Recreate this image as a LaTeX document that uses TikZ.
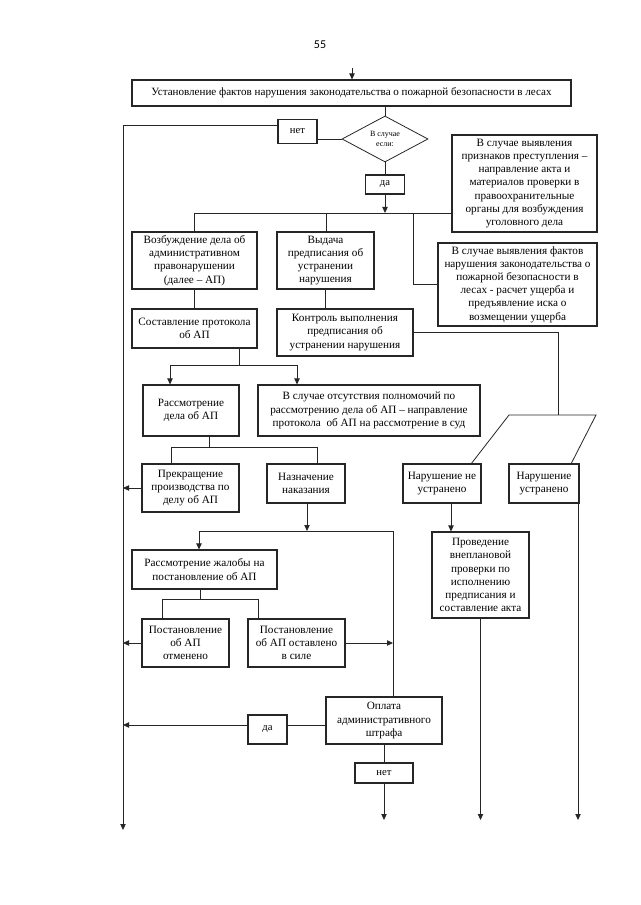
\documentclass[tikz,border=0pt]{standalone}
\usepackage{fontspec}
\setmainfont{Liberation Serif}
\newfontfamily\numfont{Carlito}
\usetikzlibrary{arrows.meta,shapes.geometric}
\tikzset{
  box/.style={draw=black!85, line width=0.8pt, align=center, inner sep=0pt, font=\fontsize{8.4}{9.9}\selectfont},
  wh/.style 2 args={minimum width=#1*0.75pt, minimum height=#2*0.75pt},
  conn/.style={draw=black!85, line width=0.6pt},
  arr/.style={conn, -{Triangle[length=4.5pt,width=4pt]}}
}
\begin{document}
\begin{tikzpicture}[x=0.75pt,y=-0.75pt]
\useasboundingbox (0,0) rectangle (640,905);
\fill[white] (0,0) rectangle (640,905);

\node[font=\numfont\fontsize{9}{10}\selectfont] (pg) at (320,45) {55};

\node[box, wh={439}{26}, font=\fontsize{8.3}{9.9}\selectfont] (main) at (351.5,93) {Установление фактов нарушения законодательства о пожарной безопасности в лесах};
\node[box, wh={39}{24}, font=\fontsize{8}{9}\selectfont] (net1) at (297.5,131.5) {нет};
\node[draw=black!85, diamond, line width=0.6pt, minimum width=86*0.75pt, minimum height=46*0.75pt, inner sep=0pt, aspect=1.8, align=center, font=\fontsize{6}{7}\selectfont] (dia) at (385,139) {В случае\\если:};
\node[box, wh={39}{19}, font=\fontsize{8}{9}\selectfont] (da1) at (385,184.5) {да};
\node[box, wh={145}{97}] (crime) at (524.5,183.5) {В случае выявления\\признаков преступления –\\направление акта и\\материалов проверки в\\правоохранительные\\органы для возбуждения\\уголовного дела};
\node[box, wh={125}{57}] (vozb) at (194.5,260.5) {Возбуждение дела об\\административном\\правонарушении\\(далее – АП)};
\node[box, wh={97}{57}] (vyd) at (325.5,260.5) {Выдача\\предписания об\\устранении\\нарушения};
\node[box, wh={159}{83}] (usch) at (517.5,284.5) {В случае выявления фактов\\нарушения законодательства о\\пожарной безопасности в\\лесах - расчет ущерба и\\предъявление иска о\\возмещении ущерба};
\node[box, wh={125}{39}] (sost) at (194.5,328.5) {Составление протокола\\об АП};
\node[box, wh={136}{47}] (kontr) at (345,332.5) {Контроль выполнения\\предписания об\\устранении нарушения};
\node[box, wh={96}{51}] (rasm) at (191,410.5) {Рассмотрение\\дела об АП};
\node[box, wh={222}{51}] (otsut) at (369,410.5) {В случае отсутствия полномочий по\\рассмотрению дела об АП – направление\\протокола~ об АП на рассмотрение в суд};
\node[box, wh={97}{48}] (prekr) at (190.5,488) {Прекращение\\производства по\\делу об АП};
\node[box, wh={78}{39}] (nazn) at (306,483.5) {Назначение\\наказания};
\node[box, wh={78}{39}] (nne) at (442,483.5) {Нарушение не\\устранено};
\node[box, wh={70}{39}] (nu) at (544,483.5) {Нарушение\\устранено};
\node[box, wh={145}{39}] (zhal) at (204.5,569.5) {Рассмотрение жалобы на\\постановление об АП};
\node[box, wh={97}{86}] (prov) at (480.5,575) {Проведение\\внеплановой\\проверки по\\исполнению\\предписания и\\составление акта};
\node[box, wh={87}{48}] (otm) at (185.5,643) {Постановление\\об АП\\отменено};
\node[box, wh={97}{48}] (ost) at (296.5,643) {Постановление\\об АП оставлено\\в силе};
\node[box, wh={116}{47}] (opl) at (384,720.5) {Оплата\\административного\\штрафа};
\node[box, wh={39}{29}, font=\fontsize{8}{9}\selectfont] (da2) at (267.5,729.5) {да};
\node[box, wh={58}{20}, font=\fontsize{8}{9}\selectfont] (net2) at (384,773) {нет};

% helper coordinates
\coordinate (top) at (352,68);
\coordinate (Ltop) at (123,125);
\coordinate (Lbot) at (123,830);
\coordinate (bot) at (0,820);
\coordinate (J1) at (385,213);
\coordinate (J1l) at (194.5,213);
\coordinate (J1m) at (326,213);
\coordinate (J1r) at (413,213);
\coordinate (pm) at (558,415);
\coordinate (ptl) at (509,415);
\coordinate (ptr) at (596,415);
\coordinate (pbl) at (471,464);
\coordinate (pbr) at (571,464);
\coordinate (J2) at (239,365);
\coordinate (J2l) at (170,365);
\coordinate (J2r) at (297,365);
\coordinate (J3) at (209,447);
\coordinate (J3l) at (171,447);
\coordinate (J3r) at (317,447);
\coordinate (J4) at (307,531);
\coordinate (J4l) at (199,531);
\coordinate (J4r) at (393,531);
\coordinate (J5) at (200,599);
\coordinate (J5l) at (162,599);
\coordinate (J5r) at (258,599);
\coordinate (yda) at (0,725);
\coordinate (x451) at (451,0);
\coordinate (x578) at (578,0);

% connectors
\draw[arr] (top) -- (top |- main.north);
\draw[conn] (main.south -| dia.north) -- (dia.north);
\draw[conn] (dia.west) -- (dia.west -| net1.east);
\draw[arr] (net1.west |- Ltop) -- (Ltop) -- (Lbot);
\draw[conn] (dia.south) -- (da1.north);
\draw[arr] (da1.south) -- (J1);
\draw[conn] (J1l) -- (crime.west |- J1);
\draw[conn] (J1l) -- (J1l |- vozb.north);
\draw[conn] (J1m) -- (J1m |- vyd.north);
\draw[conn] (J1r) |- (usch.west);
\draw[conn] (vozb.south) -- (sost.north);
\draw[conn] (vyd.south) -- (vyd.south |- kontr.north);
\draw[conn] (kontr.east) -| (pm);
\draw[conn] (pbl) -- (ptl) -- (ptr) -- (pbr);
\draw[conn] (sost.south -| J2) -- (J2);
\draw[conn] (J2l) -- (J2r);
\draw[arr] (J2l) -- (J2l |- rasm.north);
\draw[arr] (J2r) -- (J2r |- otsut.north);
\draw[conn] (rasm.south -| J3) -- (J3);
\draw[conn] (J3l) -- (J3r);
\draw[conn] (J3l) -- (J3l |- prekr.north);
\draw[conn] (J3r) -- (J3r |- nazn.north);
\draw[arr] (prekr.west) -- (prekr.west -| Lbot);
\draw[arr] (nazn.south -| J4) -- (J4);
\draw[conn] (J4l) -- (J4r);
\draw[arr] (J4l) -- (J4l |- zhal.north);
\draw[conn] (J4r) -- (J4r |- opl.north);
\draw[arr] (nne.south -| x451) -- (prov.north -| x451);
\draw[arr] (prov.south) -- (prov.south |- bot);
\draw[arr] (nu.south -| x578) -- (x578 |- bot);
\draw[conn] (zhal.south -| J5) -- (J5);
\draw[conn] (J5l) -- (J5r);
\draw[conn] (J5l) -- (J5l |- otm.north);
\draw[conn] (J5r) -- (J5r |- ost.north);
\draw[arr] (otm.west) -- (otm.west -| Lbot);
\draw[arr] (ost.east) -- (ost.east -| J4r);
\draw[conn] (opl.west |- yda) -- (da2.east |- yda);
\draw[arr] (da2.west |- yda) -- (Lbot |- yda);
\draw[conn] (opl.south) -- (net2.north);
\draw[arr] (net2.south) -- (net2.south |- bot);
\end{tikzpicture}
\end{document}
